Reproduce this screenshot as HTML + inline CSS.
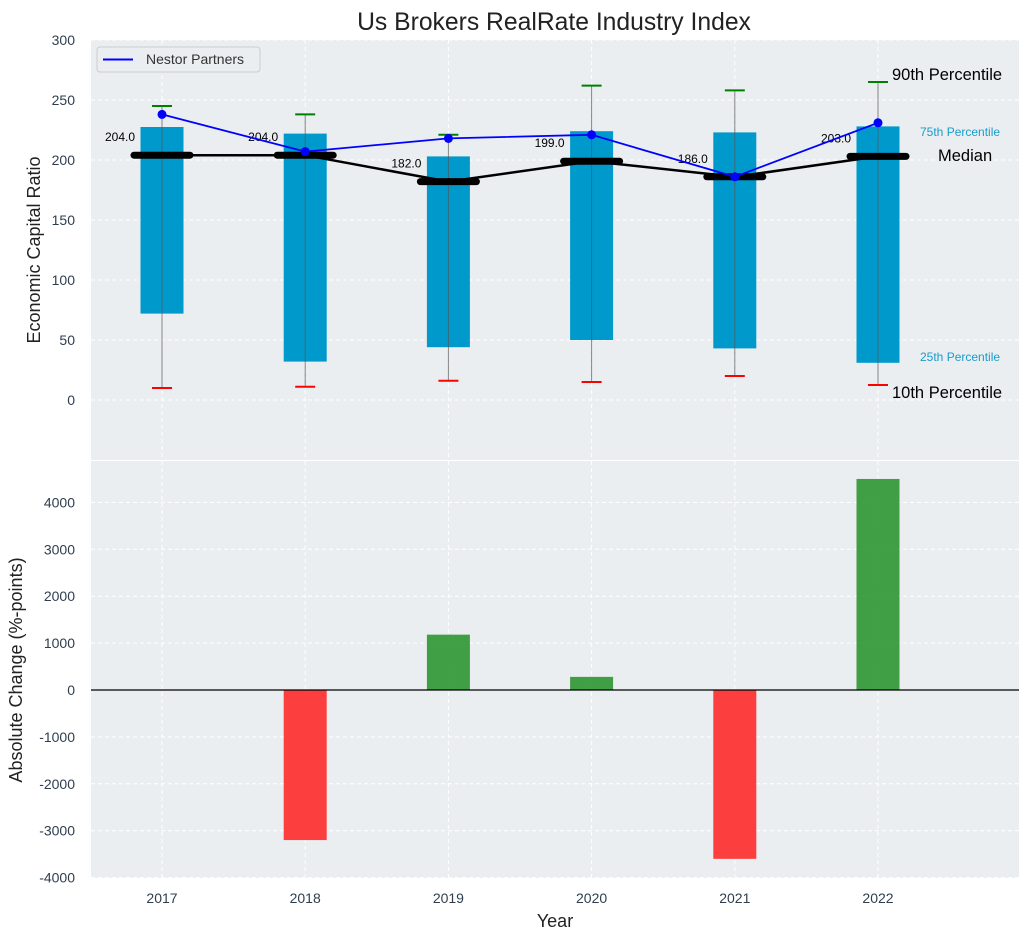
<!DOCTYPE html>
<html><head><meta charset="utf-8"><style>
body{margin:0;background:#fff;font-family:"Liberation Sans",Arial,sans-serif}
svg text{font-family:"Liberation Sans",Arial,sans-serif}
</style></head><body>
<svg id="c" width="1029" height="940" xmlns="http://www.w3.org/2000/svg"></svg>
<script>
const years=[2017,2018,2019,2020,2021,2022];
const p10=[10,11,16,15,20,12.5];
const p25=[72,32,44,50,43,31];
const median=[204,204,182,199,186,203];
const p75=[227.5,222,203,224,223,228];
const p90=[245,238,221,262,258,265];
const nestor=[238,207,218,221,186,231];
const changes=[0,-3200,1180,280,-3600,4500];
const topTicks=[0,50,100,150,200,250,300];
const botTicks=[-4000,-3000,-2000,-1000,0,1000,2000,3000,4000];

const NS='http://www.w3.org/2000/svg';
const svg=document.getElementById('c');
function el(t,a,txt){const e=document.createElementNS(NS,t);for(const k in a)e.setAttribute(k,a[k]);if(txt!==undefined)e.textContent=txt;svg.appendChild(e);return e;}
const L=91,R=1019;
const X=v=>162+(v-2017)*143.2;
const Y1=v=>400-v*1.2;
const Y2=v=>690-v*0.0469;
const bw=43;
let e=el('rect',{x:L,y:40,width:R-L,height:420,fill:'#eaeef0'});

e=el('rect',{x:L,y:461,width:R-L,height:417,fill:'#eaeef0'});

years.forEach(y=>{
 el('line',{x1:X(y),x2:X(y),y1:40,y2:460,stroke:'#fff','stroke-dasharray':'4,3','stroke-width':1});
 el('line',{x1:X(y),x2:X(y),y1:461,y2:878,stroke:'#fff','stroke-dasharray':'4,3','stroke-width':1});
});
topTicks.forEach(t=>{
 el('line',{x1:L,x2:R,y1:Y1(t),y2:Y1(t),stroke:'#fff','stroke-dasharray':'4,3'});
 e=el('text',{x:75,y:Y1(t)+5,'text-anchor':'end','font-size':14,fill:'#2f3e4e'},t);
 
});
botTicks.forEach(t=>{
 el('line',{x1:L,x2:R,y1:Y2(t),y2:Y2(t),stroke:'#fff','stroke-dasharray':'4,3'});
 e=el('text',{x:75,y:Y2(t)+5,'text-anchor':'end','font-size':14,fill:'#2f3e4e'},t);
 
});
years.forEach((y,i)=>{
 const x=X(y);
 e=el('rect',{x:x-bw/2,y:Y1(p75[i]),width:bw,height:Y1(p25[i])-Y1(p75[i]),fill:'#0099cc'});
 
 el('line',{x1:x,x2:x,y1:Y1(p90[i]),y2:Y1(p10[i]),stroke:'#555','stroke-width':1,opacity:0.7});
 e=el('line',{x1:x-10,x2:x+10,y1:Y1(p90[i]),y2:Y1(p90[i]),stroke:'green','stroke-width':2});
 
 e=el('line',{x1:x-10,x2:x+10,y1:Y1(p10[i]),y2:Y1(p10[i]),stroke:'red','stroke-width':2});
 
});
e=el('polyline',{points:years.map((y,i)=>X(y)+','+Y1(median[i])).join(' '),fill:'none',stroke:'#000','stroke-width':2.5});

years.forEach((y,i)=>{
 const x=X(y);
 e=el('line',{x1:x-28,x2:x+28,y1:Y1(median[i]),y2:Y1(median[i]),stroke:'#000','stroke-width':7,'stroke-linecap':'round'});
 
 e=el('text',{x:x-27,y:Y1(median[i])-14,'text-anchor':'end','font-size':12,fill:'#000'},median[i].toFixed(1));
 
});
e=el('polyline',{points:years.map((y,i)=>X(y)+','+Y1(nestor[i])).join(' '),fill:'none',stroke:'#0000ff','stroke-width':1.8});

years.forEach((y,i)=>{
 e=el('circle',{cx:X(y),cy:Y1(nestor[i]),r:4.5,fill:'#0000ff'});
 
});
const ann=[['90th Percentile',892,80,16.5,'#000'],['75th Percentile',920,136,12,'#1a9bcc'],['Median',938,161,16.5,'#000'],['25th Percentile',920,361,12,'#1a9bcc'],['10th Percentile',892,398,16.5,'#000']];
ann.forEach(a=>{e=el('text',{x:a[1],y:a[2],'font-size':a[3],fill:a[4]},a[0]);});
e=el('rect',{x:97,y:47,width:163,height:25,rx:3,fill:'#eaeef0',stroke:'#ccc'});

el('line',{x1:103,x2:133,y1:59.5,y2:59.5,stroke:'#0000ff','stroke-width':2});
e=el('text',{x:146,y:64,'font-size':14,fill:'#333'},'Nestor Partners');

changes.forEach((v,i)=>{
 if(v===0)return;
 const x=X(years[i]);const y0=Y2(0),y1=Y2(v);
 e=el('rect',{x:x-bw/2,y:Math.min(y0,y1),width:bw,height:Math.abs(y1-y0),fill:v>0?'#2e9632':'#ff2a2a',opacity:0.9});
 
});
el('line',{x1:L,x2:R,y1:Y2(0),y2:Y2(0),stroke:'#000','stroke-width':1.2});
years.forEach(y=>{e=el('text',{x:X(y),y:903,'text-anchor':'middle','font-size':14,fill:'#2f3e4e'},y);});
e=el('text',{x:554,y:30,'text-anchor':'middle','font-size':24.7,fill:'#222'},'Us Brokers RealRate Industry Index');

e=el('text',{x:555,y:927,'text-anchor':'middle','font-size':18,fill:'#222'},'Year');

e=el('text',{x:40,y:250,'text-anchor':'middle','font-size':18,fill:'#222',transform:'rotate(-90 40 250)'},'Economic Capital Ratio');

e=el('text',{x:22,y:670,'text-anchor':'middle','font-size':18,fill:'#222',transform:'rotate(-90 22 670)'},'Absolute Change (%-points)');

</script>
</body></html>
